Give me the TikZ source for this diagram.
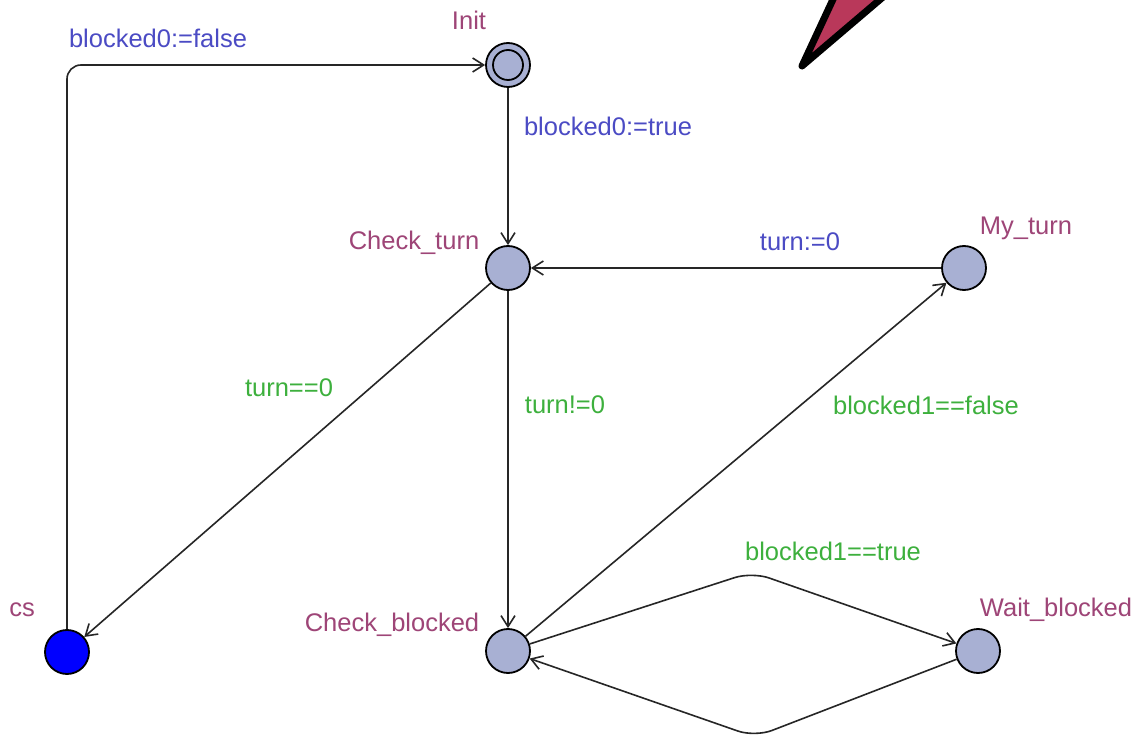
\documentclass[tikz,border=0pt]{standalone}
\usepackage{fontspec}
\setmainfont{Liberation Sans}
\usepackage{xcolor}
\usetikzlibrary{positioning, arrows.meta}

\definecolor{locname}{HTML}{9E4577}
\definecolor{assigncol}{HTML}{4B4BC4}
\definecolor{guardcol}{HTML}{3DB03D}
\definecolor{locfill}{HTML}{A8B0D3}
\definecolor{flagred}{HTML}{B9385A}

\tikzset{
  loc/.style={circle, draw, line width=1.8pt, fill=locfill, minimum size=44pt, inner sep=0pt},
  locname/.style={text=locname, inner sep=0pt},
  assign/.style={text=assigncol, inner sep=0pt},
  guard/.style={text=guardcol, inner sep=0pt},
  edge/.style={draw=black!85, line width=1.6pt, -{Straight Barb[length=11pt, width=14pt]}}
}

\begin{document}
\begin{tikzpicture}
		[x=1pt, y=-1pt, font=\fontsize{25.5}{30}\selectfont]
	
		\clip (0,0) rectangle (1136,735);
		\fill[white] (0,0) rectangle (1136,735);
	
		% flag %
		\filldraw[fill=flagred, line width=7pt, line join=round] (802,66) -- (842,-20) -- (903,-20) -- cycle;
	
		% nodes %
		\node[loc] (init) at (508,65) {};
		\node[circle, draw, line width=1.8pt, minimum size=30pt, inner sep=0pt] (init-in) at (init) {};
		\node[loc] (ct) at (508,268) {};
		\node[loc] (myturn) at (964,268) {};
		\node[loc, fill=blue] (cs) at (67,652) {};
		\node[loc] (cb) at (508,651) {};
		\node[loc] (wb) at (978,651) {};
	
		% names %
		\node[locname] (init-n) at (469,20) {Init};
		\node[locname] (ct-n) at (414,243) {Check\_turn};
		\node[locname] (myturn-n) at (1026,228) {My\_turn};
		\node[locname] (cs-n) at (22,610) {cs};
		\node[locname] (cb-n) at (392,625) {Check\_blocked};
		\node[locname] (wb-n) at (1056,610) {Wait\_blocked};
	
		% nails %
		\coordinate (up) at (752,572);
		\coordinate (down) at (755,737);
	
		% edges %
		\draw[edge, rounded corners=14pt] (cs) |- (init);
		\draw[edge] (init) -- (ct);
		\draw[edge] (myturn) -- (ct);
		\draw[edge] (ct) -- (cs);
		\draw[edge] (ct) -- (cb);
		\draw[edge] (cb) -- (myturn);
		\draw[edge, rounded corners=18pt] (cb) -- (up) -- (wb);
		\draw[edge, rounded corners=18pt] (wb) -- (down) -- (cb);
	
		% labels %
		\node[assign] (l-false) at (158,38) {blocked0:=false};
		\node[assign] (l-true) at (608,126) {blocked0:=true};
		\node[assign] (l-turn) at (800,242) {turn:=0};
		\node[guard] (l-eq) at (289,388) {turn==0};
		\node[guard] (l-neq) at (565,405) {turn!=0};
		\node[guard] (l-b1f) at (926,405) {blocked1==false};
		\node[guard] (l-b1t) at (833,551) {blocked1==true};
		
		\end{tikzpicture}
\end{document}
